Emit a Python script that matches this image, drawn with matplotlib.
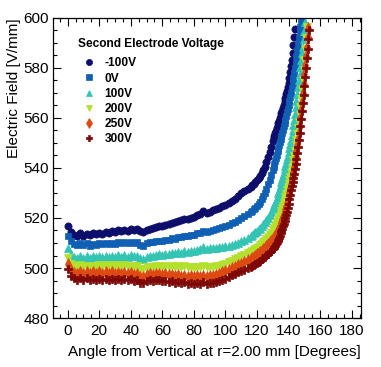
import numpy as np
import matplotlib
matplotlib.use("Agg")
from matplotlib import pyplot as plt
from matplotlib.ticker import MultipleLocator

plt.rcParams["font.family"] = ["Liberation Sans", "DejaVu Sans"]

# angle grid: coarse on the plateau, finer where the field climbs
angles = np.concatenate([np.arange(0, 116, 2), np.arange(116, 130, 1),
                         np.arange(130, 153.5, 0.5)])

labels = ["-100V", "0V", "100V", "200V", "250V", "300V"]
colors = ["#0d0d6b", "#0f5fb5", "#33c4b4", "#b3e02c", "#dc4a12", "#7d0606"]
markers = ["o", "s", "^", "v", "d", "P"]
msizes = [5.2, 4.6, 5.8, 5.8, 5.8, 5.6]

field_m100 = [
    516.8, 514.2, 513.0, 512.6, 513.9, 512.9, 513.7, 513.1, 514.0, 513.4,
    514.1, 513.6, 514.4, 514.0, 514.8, 514.2, 515.0, 514.6, 515.3, 514.8,
    515.5, 515.0, 515.6, 514.6, 514.2, 515.2, 515.6, 516.0, 516.4, 516.9,
    516.7, 517.3, 517.6, 518.0, 518.2, 518.8, 519.0, 519.6, 519.5, 520.1,
    520.4, 521.0, 521.6, 522.6, 522.0, 522.4, 523.0, 523.5, 524.0, 524.6,
    525.3, 526.0, 526.6, 527.6, 528.8, 529.8, 530.8, 531.6,
    532.4, 533.0, 533.6, 534.3, 535.0, 535.8, 536.7, 537.8, 539.0, 540.5,
    542.2, 544.2, 546.3, 548.5,
    550.7,
    551.8, 552.8, 553.8, 554.8, 555.8, 556.8, 557.8, 558.8, 559.8, 560.8,
    561.8, 562.9, 564.0, 565.3, 566.6, 568.0, 569.4, 570.8, 572.4, 574.0,
    576.0, 578.2, 580.6, 583.2, 586.0, 589.0, 592.2, 595.4,
]
field_0 = [
    512.8, 510.6, 509.6, 509.2, 510.0, 509.2, 509.8, 509.0, 509.6, 509.2,
    509.8, 509.4, 510.0, 509.4, 510.0, 509.6, 510.2, 509.8, 510.4, 509.8,
    510.4, 509.8, 510.2, 509.2, 509.0, 509.8, 510.2, 510.4, 510.6, 510.9,
    510.8, 511.2, 511.3, 511.8, 511.7, 512.2, 512.2, 512.8, 512.6, 513.2,
    513.3, 513.8, 514.0, 514.8, 514.4, 514.9, 515.2, 515.5, 515.8, 516.2,
    516.6, 517.1, 517.9, 518.5, 519.2, 519.9, 520.6, 521.4,
    522.3, 522.8, 523.4, 524.0, 524.7, 525.5, 526.4, 527.4, 528.6, 530.0,
    531.6, 533.4, 535.3, 537.3,
    539.3,
    540.4, 541.6, 542.8, 544.0, 545.3, 546.6, 547.9, 549.2, 550.5, 551.7,
    552.9, 554.1, 555.3, 556.6, 557.9, 559.3, 560.7, 562.2, 563.7, 565.2,
    566.8, 568.4, 570.1, 571.9, 573.8, 575.8, 577.9, 580.1, 582.4, 584.8,
    587.2, 589.6, 592.0, 594.3, 596.5, 598.6,
]
field_100 = [
    508.2, 505.8, 504.6, 504.0, 505.0, 504.2, 504.9, 504.2, 504.8, 504.4,
    505.0, 504.4, 505.0, 504.4, 505.0, 504.6, 505.2, 504.6, 505.2, 504.6,
    505.2, 504.8, 505.0, 504.0, 503.8, 504.6, 505.0, 505.0, 505.4, 505.8,
    505.4, 505.8, 505.8, 506.2, 506.0, 506.4, 506.2, 506.8, 506.6, 507.0,
    507.0, 507.4, 507.6, 508.4, 507.8, 507.9, 508.0, 508.2, 508.4, 508.6,
    508.8, 508.9, 509.2, 509.6, 510.1, 510.7, 511.3, 512.0,
    512.8, 513.3, 513.8, 514.3, 514.8, 515.4, 516.0, 516.7, 517.4, 518.2,
    519.1, 520.1, 521.2, 522.4,
    523.7,
    524.4, 525.2, 526.0, 526.8, 527.7, 528.7, 529.8, 530.9, 532.0, 533.1,
    534.3, 535.5, 536.8, 538.1, 539.4, 540.7, 542.0, 543.4, 544.9, 546.4,
    548.0, 549.6, 551.3, 553.1, 555.0, 557.0, 559.2, 561.6, 564.2, 566.9,
    569.6, 572.3, 575.0, 577.7, 580.4, 583.1, 585.8, 588.5, 591.5, 594.8,
    598.2,
]
field_200 = [
    504.2, 501.8, 500.8, 500.2, 501.2, 500.4, 501.0, 500.4, 501.0, 500.6,
    501.2, 500.6, 501.2, 500.6, 501.2, 500.8, 501.2, 500.6, 501.2, 500.6,
    501.0, 500.6, 500.8, 499.8, 499.6, 500.4, 500.6, 500.6, 500.8, 501.0,
    500.6, 500.8, 500.6, 500.8, 500.4, 500.8, 500.4, 500.8, 500.4, 500.6,
    500.2, 500.6, 500.4, 501.0, 500.4, 500.6, 500.6, 500.8, 501.0, 501.2,
    501.8, 502.4, 503.0, 503.6, 504.2, 504.8, 505.4, 505.9,
    506.5, 506.9, 507.3, 507.7, 508.1, 508.6, 509.1, 509.6, 510.2, 510.8,
    511.5, 512.3, 513.1, 514.0,
    515.0,
    515.5, 516.0, 516.6, 517.2, 517.8, 518.5, 519.2, 520.0, 520.9, 521.8,
    522.8, 523.8, 524.9, 526.0, 527.2, 528.4, 529.7, 531.0, 532.3, 533.6,
    535.0, 536.4, 537.9, 539.5, 541.2, 543.0, 544.9, 546.9, 549.0, 551.2,
    553.5, 555.9, 558.4, 561.0, 564.2, 567.6, 571.2, 575.0, 579.0, 583.2,
    587.6, 592.0, 596.4,
]
field_250 = [
    501.6, 499.2, 498.2, 497.6, 498.6, 497.8, 498.4, 497.8, 498.4, 497.8,
    498.4, 497.8, 498.4, 497.8, 498.4, 497.8, 498.2, 497.6, 498.2, 497.6,
    498.0, 497.4, 497.6, 496.6, 496.6, 497.4, 497.6, 497.4, 497.8, 497.8,
    497.4, 497.6, 497.2, 497.4, 496.8, 497.2, 496.6, 497.0, 496.6, 496.8,
    496.4, 496.8, 496.4, 497.0, 496.4, 496.8, 497.0, 497.4, 497.8, 498.3,
    498.8, 499.4, 500.0, 500.6, 501.2, 501.8, 502.4, 503.1,
    503.8, 504.2, 504.6, 505.0, 505.5, 506.0, 506.5, 507.0, 507.6, 508.2,
    508.8, 509.5, 510.2, 510.9,
    511.6,
    512.0, 512.4, 512.9, 513.4, 513.9, 514.5, 515.1, 515.8, 516.6, 517.5,
    518.4, 519.4, 520.4, 521.5, 522.6, 523.7, 524.8, 526.0, 527.3, 528.7,
    530.2, 531.8, 533.4, 535.0, 536.7, 538.5, 540.4, 542.4, 544.5, 546.7,
    549.0, 551.4, 554.0, 556.8, 559.8, 563.0, 566.4, 570.0, 573.7, 577.4,
    581.1, 584.8, 588.5, 592.2, 595.9,
]
field_300 = [
    499.6, 497.0, 496.0, 495.2, 496.2, 495.4, 496.0, 495.2, 495.8, 495.2,
    495.8, 495.2, 495.8, 495.2, 495.8, 495.2, 495.8, 495.2, 495.8, 495.2,
    495.6, 495.0, 495.2, 494.2, 494.2, 495.0, 495.2, 495.0, 495.4, 495.2,
    494.8, 495.0, 494.6, 494.8, 494.2, 494.6, 494.0, 494.4, 493.8, 494.2,
    493.8, 494.2, 493.8, 494.4, 493.8, 494.0, 494.0, 494.3, 494.7, 495.2,
    495.8, 496.6, 497.3, 497.8, 498.3, 498.8, 499.3, 499.9,
    500.5, 500.9, 501.3, 501.7, 502.1, 502.5, 503.0, 503.5, 504.0, 504.5,
    505.1, 505.7, 506.3, 506.9,
    507.6,
    508.0, 508.4, 508.9, 509.4, 510.0, 510.6, 511.3, 512.1, 512.9, 513.8,
    514.7, 515.7, 516.7, 517.7, 518.7, 519.8, 521.0, 522.3, 523.8, 525.5,
    527.4, 529.3, 531.0, 532.7, 534.3, 535.9, 537.6, 539.4, 541.4, 543.6,
    546.0, 548.5, 551.1, 553.8, 556.6, 559.5, 562.6, 565.9, 569.3, 572.8,
    576.4, 580.1, 583.9, 587.7, 591.5, 595.3,
]
series = [field_m100, field_0, field_100, field_200, field_250, field_300]

fig = plt.figure(figsize=(3.81, 3.67), dpi=100)
ax = fig.add_axes([0.139, 0.1335, 0.8085, 0.8175])

for vals, lab, col, mk, ms in zip(series, labels, colors, markers, msizes):
    ax.plot(angles[:len(vals)], vals, linestyle="none", marker=mk, ms=ms,
            color=col, mec=col, mew=0.5, label=lab)

ax.set_xlim(-9.3, 185.9)
ax.set_ylim(480, 600)
ax.xaxis.set_major_locator(MultipleLocator(20))
ax.xaxis.set_minor_locator(MultipleLocator(5))
ax.yaxis.set_major_locator(MultipleLocator(20))
ax.yaxis.set_minor_locator(MultipleLocator(5))
ax.tick_params(which="both", direction="in", top=True, right=True, labelsize=11)
ax.tick_params(which="major", length=6, width=0.8)
ax.tick_params(which="minor", length=3, width=0.8)
ax.tick_params(axis="x", pad=4)
ax.tick_params(axis="y", pad=3)
for sp in ax.spines.values():
    sp.set_linewidth(0.9)

ax.set_xlabel("Angle from Vertical at r=2.00 mm [Degrees]", fontsize=11, loc="right", labelpad=5)
ax.set_ylabel("Electric Field [V/mm]", fontsize=11, loc="top", labelpad=2)

leg = ax.legend(title="Second Electrode Voltage", loc="upper left",
                bbox_to_anchor=(0.055, 0.96), frameon=False, numpoints=1,
                markerscale=0.85,
                prop={"weight": "bold", "size": 8.6},
                title_fontproperties={"weight": "bold", "size": 8.6},
                alignment="left", handlelength=1.8, handletextpad=0.4,
                labelspacing=0.27, borderpad=0.2)
leg._legend_box.sep = 5

fig.savefig("out.png", dpi=100)
